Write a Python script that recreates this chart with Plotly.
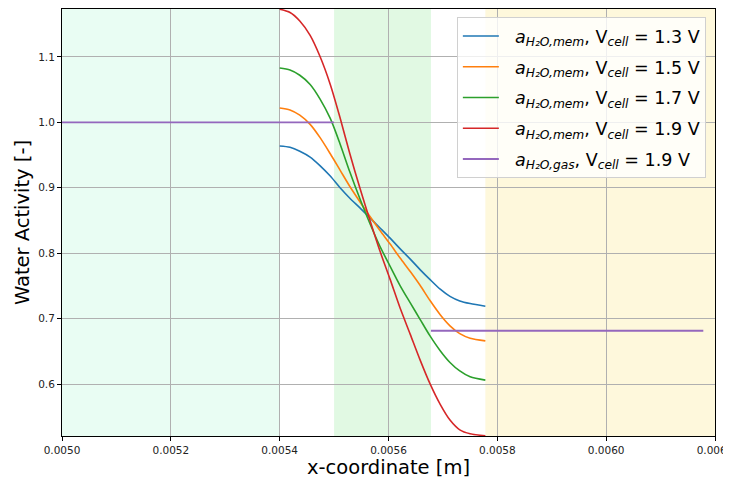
import plotly.graph_objects as go

# Sample positions across the membrane (x in m)
x_mem = [0.005400, 0.005419, 0.005437, 0.005456, 0.005474, 0.005493, 0.005511, 0.005529,
         0.005548, 0.005566, 0.005584, 0.005603, 0.005621, 0.005640, 0.005658, 0.005676,
         0.005695, 0.005713, 0.005731, 0.005750, 0.005778]

# Membrane water activity, for each cell voltage
a_mem_13 = [0.964, 0.962, 0.956, 0.947, 0.934, 0.918, 0.900, 0.884, 0.869, 0.854, 0.839,
            0.823, 0.807, 0.791, 0.775, 0.760, 0.745, 0.734, 0.727, 0.723, 0.719]
a_mem_15 = [1.022, 1.019, 1.011, 0.997, 0.977, 0.952, 0.927, 0.902, 0.878, 0.856, 0.835,
            0.814, 0.793, 0.772, 0.751, 0.728, 0.706, 0.689, 0.677, 0.670, 0.666]
a_mem_17 = [1.083, 1.080, 1.072, 1.058, 1.036, 1.006, 0.967, 0.924, 0.882, 0.845, 0.811,
            0.780, 0.751, 0.724, 0.699, 0.674, 0.651, 0.633, 0.620, 0.611, 0.606]
a_mem_19 = [1.173, 1.168, 1.155, 1.133, 1.101, 1.058, 1.007, 0.952, 0.898, 0.850, 0.804,
            0.760, 0.717, 0.676, 0.637, 0.601, 0.569, 0.545, 0.530, 0.524, 0.521]

# Gas-phase water activity (two segments)
x_gas = [0.0050, 0.0055, None, 0.005678, 0.0061785]
a_gas_19 = [1.0, 1.0, None, 0.6815, 0.6815]

# Shaded domain regions: (start, end, colour)
regions = [(0.0050, 0.0054, "#e9fdf3"), (0.0055, 0.005678, "#e1f9e3"), (0.005778, 0.0062, "#fef8dc")]

x_ticks = [0.0050, 0.0052, 0.0054, 0.0056, 0.0058, 0.0060, 0.0062]
y_ticks = [0.6, 0.7, 0.8, 0.9, 1.0, 1.1]

series = [
    (a_mem_13, "#1f77b4", "mem", "1.3"),
    (a_mem_15, "#ff7f0e", "mem", "1.5"),
    (a_mem_17, "#2ca02c", "mem", "1.7"),
    (a_mem_19, "#d62728", "mem", "1.9"),
]

def label(kind, v):
    return f"&nbsp;&nbsp;<i>a</i><sub><i>H₂O,{kind}</i></sub>, V<sub><i>cell</i></sub> = {v} V"

fig = go.Figure()
for i, (y, c, k, v) in enumerate(series):
    fig.add_trace(go.Scatter(x=x_mem, y=y, mode="lines",
                             line=dict(color=c, width=1.6, shape="spline", smoothing=0.8),
                             name=label(k, v), legendgroup=f"g{i}"))
fig.add_trace(go.Scatter(x=x_gas, y=a_gas_19, mode="lines", line=dict(color="#9467bd", width=1.8),
                         name=label("gas", "1.9"), connectgaps=False, legendgroup="g4"))

for x0, x1, col in regions:
    fig.add_shape(type="rect", xref="x", yref="paper", x0=x0, x1=x1, y0=0, y1=1,
                  fillcolor=col, line_width=0, layer="below")

axis_common = dict(showline=True, linecolor="black", linewidth=1, mirror=True,
                   ticks="outside", ticklen=4, tickcolor="black", showgrid=True,
                   gridcolor="#b0b0b0", gridwidth=0.8, zeroline=False, automargin=False,
                   tickfont=dict(family="DejaVu Sans", size=10.5, color="#222"))

fig.update_xaxes(range=[0.0050, 0.0062], tickvals=x_ticks, tickformat=".4f", ticklabeloverflow="allow",
                 title=dict(text="x-coordinate [m]", font=dict(family="DejaVu Sans", size=19.5, color="black"), standoff=1),
                 **axis_common)
fig.update_yaxes(range=[0.5206, 1.1733], tickvals=y_ticks, tickformat=".1f",
                 title=dict(text="Water Activity [-]", font=dict(family="DejaVu Sans", size=19.5, color="black"), standoff=3),
                 **axis_common)

fig.update_layout(
    width=723, height=473,
    margin=dict(l=54, r=16, t=1, b=45),
    plot_bgcolor="white", paper_bgcolor="white",
    font=dict(family="DejaVu Sans"),
    legend=dict(x=0.986, y=0.981, xanchor="right", yanchor="top",
                bgcolor="rgba(255,255,255,0.8)", bordercolor="#d0d0d0", borderwidth=1,
                font=dict(family="DejaVu Sans", size=17.5, color="black"),
                tracegroupgap=5, itemwidth=36),
    showlegend=True,
)

fig.write_html("out.html")
